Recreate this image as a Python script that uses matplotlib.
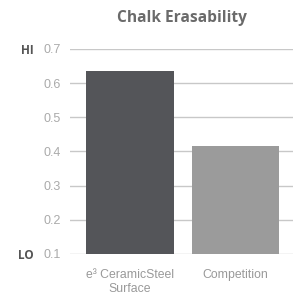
import matplotlib
matplotlib.use("Agg")
import matplotlib.pyplot as plt
from matplotlib.transforms import blended_transform_factory

categories = ["e\u00b3 CeramicSteel\nSurface", "Competition"]
values = [0.636, 0.416]
bar_colors = ["#545559", "#9b9b9b"]
yticks = [0.1, 0.2, 0.3, 0.4, 0.5, 0.6, 0.7]
title = "Chalk Erasability"

fig = plt.figure(figsize=(2.93, 2.95), dpi=100)
ax = fig.add_axes([0.239, 0.139, 0.761, 0.695])

x = list(range(len(categories)))
ax.set_axisbelow(True)
ax.bar(x, [v - 0.1 for v in values], bottom=0.1, width=0.834, color=bar_colors, zorder=3)
ax.set_xlim(-0.569, 1.545)
ax.set_ylim(0.1, 0.7)
ax.set_yticks(yticks)
ax.set_yticklabels([f"{t:.1f}" for t in yticks], fontsize=9, color="#aaaaaa",
                   family=["Liberation Sans"])
ax.tick_params(axis="y", length=0, pad=6.5)
ax.grid(axis="y", color="#c8c8c8", linewidth=1)
ax.set_xticks(x)
ax.set_xticklabels(categories, fontsize=8.8, color="#999999", family=["Liberation Sans"],
                   linespacing=1.15)
ax.tick_params(axis="x", length=0, pad=11)
for s in ax.spines.values():
    s.set_visible(False)

tr = blended_transform_factory(fig.transFigure, ax.transData)
ax.text(33.5 / 293, 0.7, "HI", transform=tr, ha="right", va="center_baseline", fontsize=8.5,
        color="#555555", fontweight="bold", family=["Open Sans"])
ax.text(33.5 / 293, 0.1, "LO", transform=tr, ha="right", va="center_baseline", fontsize=8.5,
        color="#555555", fontweight="bold", family=["Open Sans"])

fig.text(182 / 293, 1 - 18 / 295, title, ha="center", va="center", fontsize=11.2,
         color="#6a6a6a", fontweight="bold", family=["Open Sans"])

fig.savefig("out.png", dpi=100)
